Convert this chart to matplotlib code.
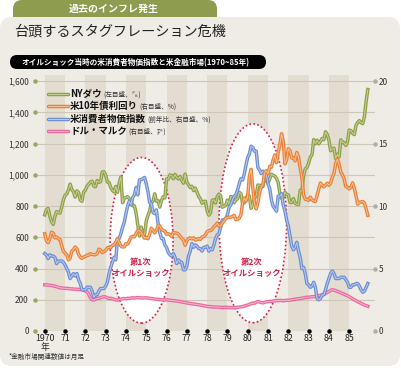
import numpy as np
import matplotlib.pyplot as plt
from matplotlib.patches import FancyBboxPatch, Ellipse
from matplotlib.lines import Line2D

plt.rcParams['font.family'] = ['Noto Sans CJK JP', 'DejaVu Sans']

# 月足データ(1970年1月～1985年12月)、図から読み取り
dow = [
    744, 778, 785, 736, 700, 683, 734, 765, 760, 755, 794, 839,
    869, 878, 904, 941, 907, 891, 858, 898, 887, 839, 831, 890,
    902, 928, 940, 954, 960, 929, 924, 964, 953, 956, 1018, 1020,
    999, 955, 951, 921, 901, 891, 926, 888, 947, 987, 822, 851,
    856, 860, 847, 837, 802, 802, 757, 679, 608, 666, 619, 616,
    704, 739, 768, 821, 832, 879, 832, 835, 794, 836, 860, 852,
    975, 973, 1000, 997, 975, 1003, 985, 974, 990, 965, 947, 1005,
    954, 936, 919, 927, 899, 916, 890, 862, 847, 818, 830, 831,
    770, 742, 757, 837, 841, 819, 862, 877, 866, 793, 799, 805,
    839, 809, 862, 855, 822, 842, 846, 888, 879, 816, 822, 839,
    876, 863, 786, 817, 851, 868, 935, 933, 932, 925, 993, 964,
    948, 975, 1004, 998, 992, 977, 952, 882, 850, 853, 889, 875,
    871, 824, 823, 848, 820, 812, 809, 901, 896, 992, 1039, 1047,
    1076, 1113, 1130, 1226, 1200, 1222, 1199, 1216, 1233, 1225, 1276, 1259,
    1221, 1155, 1165, 1171, 1105, 1132, 1115, 1224, 1207, 1207, 1189, 1212,
    1287, 1284, 1267, 1258, 1316, 1336, 1348, 1334, 1329, 1375, 1472, 1547,
]
bond10 = [
    7.79, 7.24, 7.07, 7.39, 7.91, 7.84, 7.46, 7.53, 7.39, 7.33, 6.84, 6.39,
    6.24, 6.11, 5.70, 5.83, 6.39, 6.52, 6.73, 6.58, 6.14, 5.93, 5.81, 5.93,
    5.95, 6.08, 6.07, 6.19, 6.13, 6.11, 6.11, 6.21, 6.55, 6.48, 6.28, 6.36,
    6.46, 6.64, 6.71, 6.67, 6.85, 6.90, 7.13, 7.40, 7.09, 6.79, 6.73, 6.74,
    6.99, 6.96, 7.21, 7.51, 7.58, 7.54, 7.81, 8.04, 8.04, 7.90, 7.68, 7.43,
    7.50, 7.39, 7.73, 8.23, 8.06, 7.86, 8.06, 8.40, 8.43, 8.14, 8.05, 8.00,
    7.74, 7.79, 7.73, 7.56, 7.90, 7.86, 7.83, 7.77, 7.59, 7.41, 7.29, 6.87,
    7.21, 7.39, 7.46, 7.37, 7.46, 7.28, 7.33, 7.40, 7.34, 7.52, 7.58, 7.69,
    7.96, 8.03, 8.04, 8.15, 8.35, 8.46, 8.64, 8.41, 8.42, 8.64, 8.81, 9.01,
    9.10, 9.10, 9.12, 9.18, 9.25, 8.91, 8.95, 9.03, 9.33, 10.30, 10.65, 10.39,
    10.80, 12.41, 12.95, 11.47, 10.18, 9.78, 10.25, 11.10, 11.51, 11.75, 12.68, 12.84,
    12.57, 13.19, 13.12, 13.68, 14.10, 13.47, 14.28, 14.94, 15.80, 15.15, 13.39, 13.72,
    14.59, 14.43, 13.86, 13.87, 13.62, 14.30, 13.95, 13.06, 12.34, 10.91, 10.55, 10.54,
    10.46, 10.72, 10.51, 10.40, 10.38, 10.85, 11.38, 11.85, 11.65, 11.54, 11.69, 11.83,
    11.67, 11.84, 12.32, 12.63, 13.41, 13.76, 13.36, 12.72, 12.52, 12.16, 11.57, 11.50,
    11.38, 11.51, 11.86, 11.43, 10.85, 10.16, 10.31, 10.33, 10.37, 10.24, 9.78, 9.26,
]
cpi = [
    6.2, 6.1, 5.8, 6.1, 6.0, 6.0, 5.9, 5.4, 5.6, 5.6, 5.6, 5.5,
    5.3, 5.0, 4.7, 4.2, 4.4, 4.6, 4.4, 4.6, 4.1, 3.8, 3.3, 3.3,
    3.3, 3.5, 3.5, 3.5, 3.2, 2.7, 2.9, 2.9, 3.2, 3.4, 3.4, 3.4,
    3.6, 3.9, 4.6, 5.1, 5.5, 5.9, 5.7, 7.4, 7.4, 7.8, 8.3, 8.7,
    9.4, 10.0, 10.4, 10.1, 10.7, 10.9, 11.5, 10.9, 12.1, 12.1, 12.2, 12.3,
    11.8, 11.2, 10.3, 10.2, 9.5, 9.4, 9.7, 8.6, 7.9, 7.4, 7.4, 6.9,
    6.7, 6.3, 6.1, 6.0, 6.2, 5.9, 5.4, 5.7, 5.5, 5.5, 4.9, 4.9,
    5.2, 6.0, 6.4, 7.0, 6.7, 6.9, 6.8, 6.6, 6.6, 6.4, 6.7, 6.7,
    6.8, 6.4, 6.6, 6.5, 6.9, 7.4, 7.7, 7.8, 8.3, 8.9, 8.9, 9.0,
    9.3, 9.9, 10.1, 10.5, 10.8, 10.9, 11.3, 11.8, 12.2, 12.1, 12.6, 13.3,
    13.9, 14.2, 14.8, 14.7, 14.4, 14.4, 13.1, 12.9, 12.6, 12.8, 12.6, 12.5,
    11.8, 11.4, 10.5, 10.0, 9.8, 9.6, 10.8, 10.8, 11.0, 10.1, 9.6, 8.9,
    8.4, 7.6, 6.8, 6.5, 6.7, 7.1, 6.4, 5.9, 5.0, 5.1, 4.6, 3.8,
    3.7, 3.5, 3.6, 3.9, 3.5, 2.6, 2.5, 2.6, 2.9, 2.9, 3.3, 3.8,
    4.2, 4.6, 4.8, 4.6, 4.2, 4.2, 4.2, 4.3, 4.3, 4.3, 4.1, 3.9,
    3.5, 3.5, 3.7, 3.7, 3.8, 3.8, 3.6, 3.3, 3.1, 3.2, 3.5, 3.8,
]
dem = [
    3.70, 3.69, 3.68, 3.66, 3.64, 3.62, 3.58, 3.55, 3.50, 3.46, 3.44, 3.43,
    3.42, 3.41, 3.40, 3.38, 3.37, 3.36, 3.35, 3.34, 3.33, 3.32, 3.30, 3.28,
    3.20, 3.15, 2.95, 2.65, 2.50, 2.48, 2.55, 2.60, 2.62, 2.66, 2.72, 2.75,
    2.72, 2.66, 2.60, 2.62, 2.58, 2.53, 2.50, 2.48, 2.52, 2.55, 2.58, 2.60,
    2.58, 2.62, 2.60, 2.64, 2.66, 2.63, 2.66, 2.68, 2.65, 2.66, 2.64, 2.65,
    2.66, 2.64, 2.62, 2.60, 2.58, 2.55, 2.55, 2.53, 2.52, 2.50, 2.50, 2.49,
    2.50, 2.48, 2.46, 2.45, 2.43, 2.42, 2.40, 2.38, 2.35, 2.33, 2.30, 2.28,
    2.25, 2.22, 2.20, 2.18, 2.16, 2.14, 2.12, 2.10, 2.08, 2.05, 2.02, 2.00,
    1.98, 1.96, 1.95, 1.93, 1.92, 1.91, 1.92, 1.90, 1.89, 1.88, 1.89, 1.90,
    1.88, 1.87, 1.88, 1.86, 1.88, 1.87, 1.90, 1.92, 1.94, 1.96, 2.00, 2.04,
    2.08, 2.12, 2.20, 2.24, 2.22, 2.30, 2.36, 2.32, 2.28, 2.25, 2.30, 2.34,
    2.35, 2.38, 2.36, 2.40, 2.42, 2.44, 2.43, 2.46, 2.44, 2.42, 2.44, 2.46,
    2.45, 2.48, 2.50, 2.52, 2.54, 2.56, 2.58, 2.60, 2.62, 2.65, 2.68, 2.70,
    2.70, 2.72, 2.75, 2.74, 2.78, 2.80, 2.82, 2.86, 2.90, 2.94, 3.00, 3.08,
    3.15, 3.25, 3.30, 3.28, 3.22, 3.18, 3.12, 3.06, 3.00, 2.94, 2.88, 2.82,
    2.75, 2.66, 2.58, 2.50, 2.42, 2.35, 2.28, 2.20, 2.14, 2.08, 2.03, 1.98,
]

years = list(range(1970, 1986))
year_labels = ['1970\n年'] + [str(y)[2:] for y in years[1:]]
t = np.array([y + m / 12 for y in years for m in range(12)])

BG = '#efebe5'
BAND = '#e3dcd1'
RED = '#d61f48'
colors = {
    'dow': ('#8fa04a', '#c9d296'),
    'bond': ('#e9813a', '#f8c396'),
    'cpi': ('#6e8fd2', '#bccbef'),
    'dem': ('#ea6aa0', '#f7b6d2'),
}

fig = plt.figure(figsize=(4.01, 3.68), dpi=100)
fig.patch.set_facecolor('white')

# 背景(ピクセル座標)
bg = fig.add_axes([0, 0, 1, 1], zorder=-5)
bg.set_xlim(0, 401)
bg.set_ylim(368, 0)
bg.axis('off')
bg.add_patch(FancyBboxPatch((13, 0), 204, 28, boxstyle='round,pad=0,rounding_size=9',
                            fc='#8e9c50', ec='none'))
bg.add_patch(FancyBboxPatch((0, 17), 400, 349, boxstyle='round,pad=0,rounding_size=12',
                            fc=BG, ec='none'))
bg.text(114, 8.5, '過去のインフレ発生', color='white', fontsize=7.2, fontweight='bold',
        ha='center', va='center')
bg.text(14, 31, '台頭するスタグフレーション危機', color='#222222', fontsize=10.2,
        ha='left', va='center')
bg.add_patch(FancyBboxPatch((10, 55), 256, 14, boxstyle='round,pad=0,rounding_size=7',
                            fc='black', ec='none'))
bg.text(22, 62.3, 'オイルショック当時の米消費者物価指数と米金融市場(1970~85年)',
        color='white', fontsize=5.5, fontweight='bold', ha='left', va='center')
bg.text(9, 357, '*金融市場関連数値は月足', color='#333333', fontsize=4.8,
        ha='left', va='center')

# グラフ本体
ax = fig.add_axes([35 / 401, 37 / 368, 340 / 401, 256 / 368])
ax.patch.set_alpha(0)
ax.set_xlim(1969.52, 1986.27)
ax.set_ylim(0, 1640)
for y in years[::2]:
    ax.axvspan(y, y + 1, color=BAND, lw=0, zorder=0.1)
ax.set_yticks(range(0, 1601, 200))
ax.set_yticklabels([f'{v:,}' for v in range(0, 1601, 200)])
ax.yaxis.grid(True, color='#cec6b7', lw=0.8)
ax.set_axisbelow(True)
for s in ax.spines.values():
    s.set_visible(False)
ax.tick_params(axis='y', length=0, pad=4.5, labelsize=6, labelcolor='#333333')
ax.set_xticks(years)
ax.set_xticklabels(year_labels, linespacing=0.95)
ax.tick_params(axis='x', length=0, pad=2.5, labelsize=6.3, labelcolor='#222222')

# オイルショックの楕円
for cx, cy, w, h, label in [(1974.77, 581, 3.1, 1061, '第1次\nオイルショック'),
                            (1980.25, 690, 3.33, 1274, '第2次\nオイルショック')]:
    ax.add_patch(Ellipse((cx, cy), w, h, fc='white', ec=RED, lw=1.2,
                         ls=(0, (1, 1.4)), zorder=1))
    ax.text(cx - 0.05, 405, label, color=RED, fontsize=6, fontweight='bold',
            ha='center', va='center', linespacing=1.25, zorder=1.5)

# 目盛の点
ax.plot(np.zeros(9), range(0, 1601, 200), 'o', ms=2.2, color='#9aa65a',
        transform=ax.get_yaxis_transform(), clip_on=False, zorder=3)
ax.plot(years, np.zeros(len(years)), 'o', ms=2.2, color='black', clip_on=False, zorder=3)

ax2 = ax.twinx()
ax2.set_ylim(0, 1640 / 80)
ax2.set_yticks([0, 5, 10, 15, 20])
for s in ax2.spines.values():
    s.set_visible(False)
ax2.tick_params(axis='y', length=0, pad=2.5, labelsize=6, labelcolor='#333333')
ax2.plot(np.ones(5), [0, 5, 10, 15, 20], 'o', ms=2.2, color='#b3ada2',
         transform=ax2.get_yaxis_transform(), clip_on=False)


def double_line(axis, x, y, key):
    dark, light = colors[key]
    axis.plot(x, y, color=dark, lw=2.5, solid_joinstyle='round', zorder=2)
    axis.plot(x, y, color=light, lw=0.7, solid_joinstyle='round', zorder=2)


double_line(ax, t, dow, 'dow')
double_line(ax2, t, dem, 'dem')
double_line(ax2, t, cpi, 'cpi')
double_line(ax2, t, bond10, 'bond')

# 凡例
ov = fig.add_axes([0, 0, 1, 1], zorder=10)
ov.set_xlim(0, 401)
ov.set_ylim(368, 0)
ov.axis('off')
legend_rows = [('NYダウ', '(左目盛、㌦)', 'dow'),
               ('米10年債利回り', '(右目盛、%)', 'bond'),
               ('米消費者物価指数', '(前年比、右目盛、%)', 'cpi'),
               ('ドル・マルク', '(右目盛、㍆)', 'dem')]
for i, (name, unit, key) in enumerate(legend_rows):
    yy = 93.5 + i * 12.6
    dark, light = colors[key]
    ov.add_line(Line2D([48, 68], [yy, yy], color=dark, lw=2.5, solid_capstyle='round'))
    ov.add_line(Line2D([48, 68], [yy, yy], color=light, lw=0.7))
    bold = ov.text(70, yy, name, fontsize=6.8, fontweight='bold', color='#111111',
                   ha='left', va='center')
    ov.annotate(unit, xy=(1, 0.5), xycoords=bold, xytext=(1, -0.5),
                textcoords='offset points', fontsize=4.8, color='#333333',
                ha='left', va='center')

fig.savefig('out.png', dpi=100, facecolor='white')
